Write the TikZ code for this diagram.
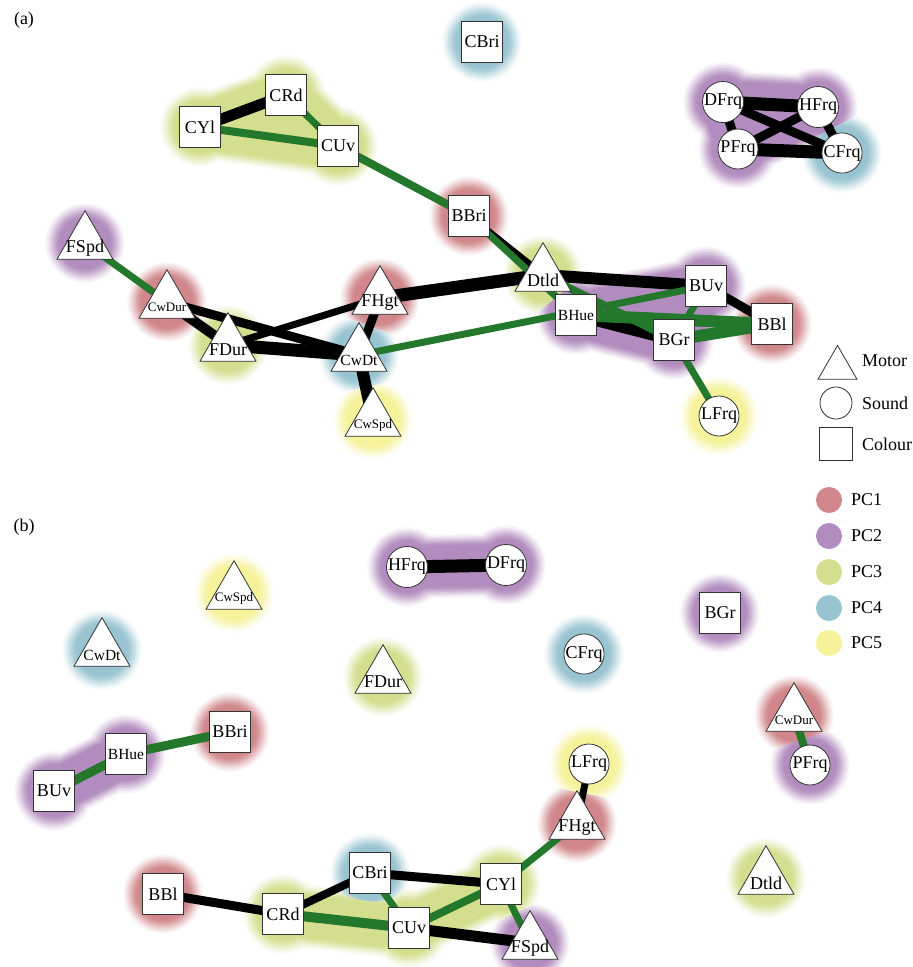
\documentclass[tikz,border=0pt]{standalone}
\usepackage{fontspec}
\setmainfont{Liberation Serif}
\usetikzlibrary{shapes.geometric}
\pgfdeclarelayer{halo}
\pgfdeclarelayer{edges}
\pgfsetlayers{halo,edges,main}
\definecolor{pcA}{RGB}{208,134,138}
\definecolor{pcB}{RGB}{178,140,190}
\definecolor{pcC}{RGB}{211,223,142}
\definecolor{pcD}{RGB}{152,196,209}
\definecolor{pcE}{RGB}{245,242,154}
\definecolor{edgegreen}{RGB}{36,120,44}
\newcommand\lblfont{\fontsize{18}{20}\selectfont}
\newcommand\midfont{\fontsize{15.5}{17}\selectfont}
\newcommand\smfont{\fontsize{13}{15}\selectfont}
\tikzset{
  sq/.style={draw=black!80, fill=white, line width=0.8pt, minimum size=41pt, inner sep=0pt, font=\lblfont},
  circ/.style={circle, draw=black!80, fill=white, line width=0.8pt, minimum size=40pt, inner sep=0pt, font=\lblfont},
  tri/.style={regular polygon, regular polygon sides=3, minimum size=64.6pt, inner sep=0pt, draw=black!80, fill=white, line width=0.8pt},
  tlab/.style={yshift=-5pt, font=\lblfont, inner sep=0pt},
  blk/.style={draw=black, line width=#1},
  grn/.style={draw=edgegreen, line width=#1},
  legtxt/.style={anchor=west, font=\lblfont, inner sep=0pt},
}
\newcommand\halolayer[2]{%
  \pgfmathsetmacro\hr{30+#1}%
  \pgfmathsetmacro\hw{1.6*(30+#1)}%
  \foreach \na/\nb/\cl in {aCYl/aCRd/pcC, aCRd/aCUv/pcC, aCYl/aCUv/pcC,
      aDFrq/aHFrq/pcB, aDFrq/aPFrq/pcB, aPFrq/aHFrq/pcB,
      aBHue/aBGr/pcB, aBUv/aBGr/pcB, aBHue/aBUv/pcB,
      bHFrq/bDFrq/pcB, bBHue/bBUv/pcB, bCRd/bCUv/pcC, bCUv/bCYl/pcC}
    {\draw[\cl!#2!white, line width=\hw pt, line cap=round] (\na.center) -- (\nb.center);}
  \foreach \na/\cl in {aCBri/pcD, aCRd/pcC, aCYl/pcC, aCUv/pcC, aBBri/pcA,
      aDFrq/pcB, aHFrq/pcB, aPFrq/pcB, aCFrq/pcD, aFSpd/pcB, aCwDur/pcA,
      aFDur/pcC, aFHgt/pcA, aCwDt/pcD, aCwSpd/pcE, aDtld/pcC, aBHue/pcB,
      aBUv/pcB, aBGr/pcB, aBBl/pcA, aLFrq/pcE,
      bHFrq/pcB, bDFrq/pcB, bCwSpd/pcE, bCwDt/pcD, bFDur/pcC, bBBri/pcA,
      bBHue/pcB, bBUv/pcB, bBGr/pcB, bCFrq/pcD, bCwDur/pcA, bPFrq/pcB,
      bLFrq/pcE, bFHgt/pcA, bCYl/pcC, bFSpd/pcB, bDtld/pcC, bBBl/pcA,
      bCRd/pcC, bCBri/pcD, bCUv/pcC}
    {\fill[\cl!#2!white] (\na.center) circle[radius=\hr];}
}
\begin{document}
\begin{tikzpicture}[x=1pt, y=-1pt]
\useasboundingbox (0,0) rectangle (913,967);

% panel labels
\node[font=\lblfont] (labA) at (24,20) {(a)};
\node[font=\lblfont] (labB) at (24,527) {(b)};

% ---------- panel (a) nodes ----------
\node[sq] (aCBri) at (482,42) {CBri};
\node[sq] (aCRd) at (286,95) {CRd};
\node[sq] (aCYl) at (200,127) {CYl};
\node[sq] (aCUv) at (338,146) {CUv};
\node[sq] (aBBri) at (469,216) {BBri};
\node[circ] (aDFrq) at (723,102) {DFrq};
\node[circ] (aHFrq) at (818,107) {HFrq};
\node[circ] (aPFrq) at (738,149) {PFrq};
\node[circ] (aCFrq) at (842,153) {CFrq};
\node[tri, label={[tlab]center:FSpd}] (aFSpd) at (85,243) {};
\node[tri, label={[tlab,font=\smfont]center:CwDur}] (aCwDur) at (167,302) {};
\node[tri, label={[tlab]center:FDur}] (aFDur) at (228,345) {};
\node[tri, label={[tlab]center:FHgt}] (aFHgt) at (380,298) {};
\node[tri, label={[tlab,font=\midfont]center:CwDt}] (aCwDt) at (359,355) {};
\node[tri, label={[tlab,font=\smfont]center:CwSpd}] (aCwSpd) at (373,420) {};
\node[tri, label={[tlab]center:Dtld}] (aDtld) at (543,275) {};
\node[sq] (aBHue) at (576,315) {\midfont BHue};
\node[sq] (aBUv) at (706,286) {BUv};
\node[sq] (aBBl) at (772,324) {BBl};
\node[sq] (aBGr) at (674,340) {BGr};
\node[circ] (aLFrq) at (719,416) {LFrq};

% ---------- panel (b) nodes ----------
\node[circ] (bHFrq) at (407,567) {HFrq};
\node[circ] (bDFrq) at (506,565) {DFrq};
\node[tri, label={[tlab,font=\smfont]center:CwSpd}] (bCwSpd) at (234,593) {};
\node[tri, label={[tlab,font=\midfont]center:CwDt}] (bCwDt) at (102,650) {};
\node[tri, label={[tlab]center:FDur}] (bFDur) at (383,677) {};
\node[sq] (bBBri) at (230,732) {BBri};
\node[sq] (bBHue) at (126,754) {\midfont BHue};
\node[sq] (bBUv) at (54,791) {BUv};
\node[sq] (bBGr) at (720,613) {BGr};
\node[circ] (bCFrq) at (584,654) {CFrq};
\node[tri, label={[tlab,font=\smfont]center:CwDur}] (bCwDur) at (794,715) {};
\node[circ] (bPFrq) at (810,765) {PFrq};
\node[circ] (bLFrq) at (589,764) {LFrq};
\node[tri, label={[tlab]center:FHgt}] (bFHgt) at (577,823) {};
\node[sq] (bCYl) at (501,884) {CYl};
\node[tri, label={[tlab]center:FSpd}] (bFSpd) at (530,943) {};
\node[tri, label={[tlab]center:Dtld}] (bDtld) at (766,878) {};
\node[sq] (bBBl) at (163,894) {BBl};
\node[sq] (bCRd) at (283,914) {CRd};
\node[sq] (bCBri) at (370,873) {CBri};
\node[sq] (bCUv) at (409,928) {CUv};

% ---------- legend ----------
\node[regular polygon, regular polygon sides=3, minimum size=45pt, inner sep=0pt, draw=black!80, fill=white, line width=0.8pt] (legTri) at (837.5,368) {};
\node[legtxt] (legMotor) at (862,361) {Motor};
\node[circle, draw=black!80, fill=white, line width=0.8pt, minimum size=32pt, inner sep=0pt] (legCirc) at (836,403) {};
\node[legtxt] (legSound) at (862,403) {Sound};
\node[draw=black!80, fill=white, line width=0.8pt, minimum size=33pt, inner sep=0pt] (legSq) at (836,444) {};
\node[legtxt] (legColour) at (862,444) {Colour};
\node[circle, fill=pcA, minimum size=26pt, inner sep=0pt] (legA) at (829,500) {};
\node[legtxt] (legAt) at (851,500) {PC1};
\node[circle, fill=pcB, minimum size=26pt, inner sep=0pt] (legB) at (829,536) {};
\node[legtxt] (legBt) at (851,536) {PC2};
\node[circle, fill=pcC, minimum size=26pt, inner sep=0pt] (legC) at (829,572) {};
\node[legtxt] (legCt) at (851,572) {PC3};
\node[circle, fill=pcD, minimum size=26pt, inner sep=0pt] (legD) at (829,608) {};
\node[legtxt] (legDt) at (851,608) {PC4};
\node[circle, fill=pcE, minimum size=26pt, inner sep=0pt] (legE) at (829,643) {};
\node[legtxt] (legEt) at (851,643) {PC5};

% ---------- edges ----------
\begin{pgfonlayer}{edges}
% panel (a) black
\draw[blk=11pt] (aCYl.center) -- (aCRd.center);
\draw[blk=13pt] (aDFrq.center) -- (aHFrq.center);
\draw[blk=9pt] (aDFrq.center) -- (aPFrq.center);
\draw[blk=9pt] (aDFrq.center) -- (aCFrq.center);
\draw[blk=9pt] (aPFrq.center) -- (aHFrq.center);
\draw[blk=13pt] (aPFrq.center) -- (aCFrq.center);
\draw[blk=9pt] (aHFrq.center) -- (aCFrq.center);
\draw[blk=10pt] (aCwDur.center) -- (aFDur.center);
\draw[blk=9pt] (aCwDur.center) -- (aCwDt.center);
\draw[blk=7pt] (aFDur.center) -- (aFHgt.center);
\draw[blk=13pt] (aFDur.center) -- (aCwDt.center);
\draw[blk=9pt] (aFHgt.center) -- (aCwDt.center);
\draw[blk=12pt] (aCwDt.center) -- (aCwSpd.center);
\draw[blk=13pt] (aFHgt.center) -- (aDtld.center);
\draw[blk=7pt] (aBBri.center) -- (aDtld.center);
\draw[blk=12pt] (aDtld.center) -- (aBUv.center);
\draw[blk=9pt] (aBUv.center) -- (aBBl.center);
\draw[blk=12pt] (aBHue.center) -- (aBGr.center);
% panel (a) green
\draw[grn=8pt] (aCYl.center) -- (aCUv.center);
\draw[grn=7pt] (aCRd.center) -- (aCUv.center);
\draw[grn=8pt] (aCUv.center) -- (aBBri.center);
\draw[grn=7pt] (aFSpd.center) -- (aCwDur.center);
\draw[grn=7pt] (aCwDt.center) -- (aBUv.center);
\draw[grn=7pt] (aBBri.center) -- (aBHue.center);
\draw[grn=8pt] (aDtld.center) -- (aBGr.center);
\draw[grn=12pt] (aBHue.center) -- (aBBl.center);
\draw[grn=12pt] (aBGr.center) -- (aBBl.center);
\draw[grn=7pt] (aBUv.center) -- (aBGr.center);
\draw[grn=7pt] (aBGr.center) -- (aLFrq.center);
% panel (b) black
\draw[blk=13pt] (bHFrq.center) -- (bDFrq.center);
\draw[blk=7pt] (bLFrq.center) -- (bFHgt.center);
\draw[blk=9pt] (bCBri.center) -- (bCYl.center);
\draw[blk=9pt] (bBBl.center) -- (bCRd.center);
\draw[blk=8pt] (bCRd.center) -- (bCBri.center);
\draw[blk=11pt] (bCUv.center) -- (bFSpd.center);
% panel (b) green
\draw[grn=9pt] (bBBri.center) -- (bBHue.center);
\draw[grn=9pt] (bBHue.center) -- (bBUv.center);
\draw[grn=8pt] (bCwDur.center) -- (bPFrq.center);
\draw[grn=7pt] (bFHgt.center) -- (bCYl.center);
\draw[grn=7pt] (bCYl.center) -- (bFSpd.center);
\draw[grn=10pt] (bCRd.center) -- (bCUv.center);
\draw[grn=7pt] (bCBri.center) -- (bCUv.center);
\draw[grn=8pt] (bCUv.center) -- (bCYl.center);
\end{pgfonlayer}

% ---------- halos ----------
\begin{pgfonlayer}{halo}
\halolayer{10}{6}
\halolayer{8.5}{14}
\halolayer{7}{24}
\halolayer{5.5}{35}
\halolayer{4}{47}
\halolayer{2.5}{59}
\halolayer{1}{71}
\halolayer{-0.5}{82}
\halolayer{-2}{91}
\halolayer{-3.5}{97}
\halolayer{-5}{100}
\end{pgfonlayer}
\end{tikzpicture}
\end{document}
